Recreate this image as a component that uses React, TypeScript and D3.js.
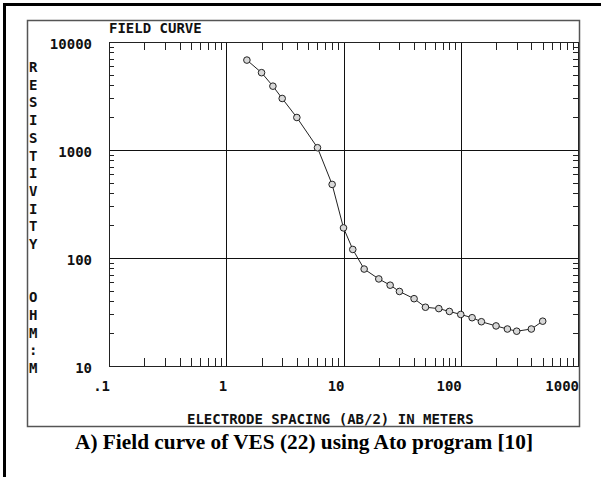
import React from "react";
import * as d3 from "d3";

// AB/2 spacing (m) and apparent resistivity (ohm.m)
const spacing = [1.5, 2, 2.5, 3, 4, 6, 8, 10, 12, 15, 20, 25, 30, 40, 50, 65, 80, 100, 125, 150, 200, 250, 300, 400, 500];
const resistivity = [6800, 5200, 3900, 3000, 2000, 1050, 480, 190, 120, 79, 64, 56, 49, 42, 35, 34, 32, 30, 28, 25.7, 23.5, 22, 21, 22, 26];

const xMajor = [0.1, 1, 10, 100, 1000];
const xMajorLabels = [".1", "1", "10", "100", "1000"];
const yMajor = [10, 100, 1000, 10000];
const yMajorLabels = ["10", "100", "1000", "10000"];

const title = "FIELD CURVE";
const xTitle = "ELECTRODE SPACING (AB/2) IN METERS";
const yTitle = "RESISTIVITY  OHM:M";
const caption = "A) Field curve of VES (22) using Ato program [10]";

const W = 601;
const H = 477;
const plot = { left: 109, right: 578, top: 42, bottom: 366 };
const mono = "'DejaVu Sans Mono', monospace";

export default function App() {
  const x = d3.scaleLog().domain([0.1, 1000]).range([plot.left, plot.right]);
  const y = d3.scaleLog().domain([10, 10000]).range([plot.bottom, plot.top]);

  // minor ticks only (2..9 of each decade); decades are drawn as grid lines
  const xMinor = x.ticks().filter((t) => !xMajor.some((m) => Math.abs(m - t) / m < 1e-6));
  const yMinor = y.ticks().filter((t) => !yMajor.some((m) => Math.abs(m - t) / m < 1e-6));

  const pts = spacing.map((s, i) => [x(s), y(resistivity[i])] as [number, number]);
  const line = d3.line()(pts) || "";

  return (
    <svg width={W} height={H} style={{ display: "block", position: "absolute", left: 0, top: 0 }}>
      <rect x={0} y={0} width={W} height={H} fill="#fff" />
      {/* outer frame (top + left only, the rest is cropped) */}
      <line x1={3} x2={W} y1={4.5} y2={4.5} stroke="#000" strokeWidth={3} />
      <line x1={4.5} x2={4.5} y1={3} y2={H} stroke="#000" strokeWidth={3} />
      {/* screen frame */}
      <rect x={27.5} y={20.5} width={552} height={406} fill="none" stroke="#555" strokeWidth={1.5} />

      <text x={plot.left} y={33} fontFamily={mono} fontWeight="bold" fontSize={14} fill="#111">{title}</text>

      {/* grid lines */}
      <g stroke="#111" strokeWidth={1}>
        {xMajor.slice(1, -1).map((v) => (
          <line key={"gx" + v} x1={Math.round(x(v)) + 0.5} x2={Math.round(x(v)) + 0.5} y1={plot.top} y2={plot.bottom} />
        ))}
        {yMajor.slice(1, -1).map((v) => (
          <line key={"gy" + v} x1={plot.left} x2={plot.right} y1={Math.round(y(v)) + 0.5} y2={Math.round(y(v)) + 0.5} />
        ))}
      </g>

      {/* plot box */}
      <rect x={plot.left + 0.5} y={plot.top + 0.5} width={plot.right - plot.left} height={plot.bottom - plot.top} fill="none" stroke="#222" strokeWidth={1} />

      {/* minor ticks, pointing inwards */}
      <g stroke="#222" strokeWidth={1}>
        {xMinor.map((v) => {
          const px = Math.round(x(v)) + 0.5;
          return (
            <g key={"tx" + v}>
              <line x1={px} x2={px} y1={plot.bottom} y2={plot.bottom - 8} />
              <line x1={px} x2={px} y1={plot.top} y2={plot.top + 8} />
            </g>
          );
        })}
        {yMinor.map((v) => {
          const py = Math.round(y(v)) + 0.5;
          return (
            <g key={"ty" + v}>
              <line x1={plot.left} x2={plot.left + 5} y1={py} y2={py} />
              <line x1={plot.right} x2={plot.right - 5} y1={py} y2={py} />
            </g>
          );
        })}
      </g>

      {/* tick labels */}
      <g fontFamily={mono} fontWeight="bold" fontSize={14} fill="#111">
        {yMajor.map((v, i) => (
          <text key={"ly" + v} x={92} y={y(v) + 7} textAnchor="end">{yMajorLabels[i]}</text>
        ))}
        {xMajor.map((v, i) => (
          <text key={"lx" + v} x={x(v) + 1} y={391} textAnchor="end">{xMajorLabels[i]}</text>
        ))}
        <text x={187} y={424}>{xTitle}</text>
        {yTitle.split("").map((c, i) => (
          <text key={"yt" + i} x={29} y={72 + i * 17.7}>{c}</text>
        ))}
      </g>

      {/* field curve */}
      <path d={line} fill="none" stroke="#222" strokeWidth={1} />
      {pts.map(([px, py], i) => (
        <circle key={"p" + i} cx={px} cy={py} r={3.3} fill="#d8d8d8" stroke="#222" strokeWidth={1} />
      ))}

      <text x={304} y={449} textAnchor="middle" textLength={458} lengthAdjust="spacingAndGlyphs" fontFamily="'Liberation Serif', 'Times New Roman', serif" fontWeight="bold" fontSize={20} fill="#000">{caption}</text>
    </svg>
  );
}
